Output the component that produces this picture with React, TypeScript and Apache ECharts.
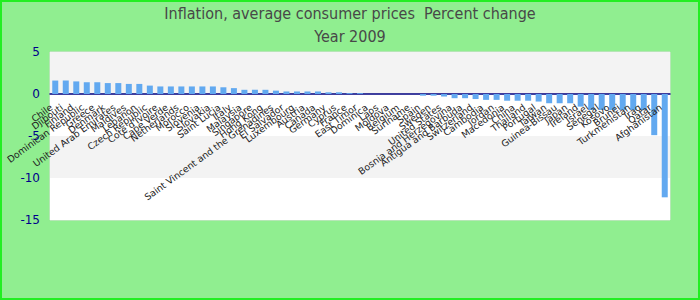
import React, { useEffect, useRef } from "react";
import * as echarts from "echarts";

const titleLine1 = "Inflation, average consumer prices  Percent change";
const titleLine2 = "Year 2009";

const countries = [
  "Chile", "Djibouti", "Finland", "Dominican Republic", "Greece", "Denmark",
  "United Arab Emirates", "Maldives", "Lebanon", "Czech Republic", "Cote d'Ivoire",
  "Cape Verde", "Netherlands", "Morocco", "Slovenia", "Slovakia", "Saint Lucia",
  "Italy", "Malaysia", "Singapore", "Hong Kong", "Saint Vincent and the Grenadines",
  "El Salvador", "Luxembourg", "Austria", "Canada", "Germany", "Cyprus", "France",
  "East Timor", "Dominica", "Laos", "Moldova", "Belgium", "Suriname", "Spain",
  "Sweden", "United States", "Bosnia and Herzegovina", "Antigua and Barbuda",
  "Switzerland", "Cambodia", "Jordan", "Macedonia", "China", "Thailand", "Portugal",
  "Taiwan", "Guinea-Bissau", "Japan", "Ireland", "Israel", "Senegal", "Kosovo",
  "Brunei", "Turkmenistan", "Iraq", "Qatar", "Afghanistan",
];

const inflation = [
  1.6, 1.6, 1.5, 1.4, 1.4, 1.3, 1.3, 1.2, 1.2, 1.0, 0.9, 0.9, 0.9, 0.9, 0.9, 0.9,
  0.8, 0.7, 0.5, 0.5, 0.5, 0.4, 0.3, 0.3, 0.3, 0.3, 0.2, 0.2, 0.1, 0.1, 0.0, 0.0,
  0.0, 0.0, 0.0, -0.2, -0.2, -0.3, -0.5, -0.5, -0.6, -0.7, -0.7, -0.8, -0.8, -0.8,
  -0.9, -1.1, -1.1, -1.1, -1.5, -1.9, -1.9, -1.9, -1.9, -1.9, -1.9, -4.9, -12.3,
];

const yMin = -15;
const yMax = 5;
const yStep = 5;

export default function App() {
  const ref = useRef<HTMLDivElement>(null);
  useEffect(() => {
    document.body.style.margin = "0";
    const chart = echarts.init(ref.current!, undefined, { renderer: "svg" });
    const labelData = countries.map((name, i) => [i, 0, name]);
    chart.setOption({
      animation: false,
      backgroundColor: "#90ee90",
      title: {
        text: titleLine1 + "\n" + titleLine2,
        left: "center",
        top: 2,
        padding: 0,
        textStyle: {
          fontFamily: "'Liberation Sans Narrow', 'DejaVu Sans Condensed', 'Liberation Sans', sans-serif",
          fontSize: 16,
          fontWeight: "normal",
          color: "#484848",
          lineHeight: 23,
        },
      },
      graphic: [
        {
          type: "rect",
          shape: { x: 1, y: 1, width: 698, height: 298 },
          style: { fill: "none", stroke: "#22ee22", lineWidth: 2 },
          silent: true,
          z: 100,
        },
      ],
      grid: {
        left: 50,
        right: 30,
        top: 52,
        bottom: 80,
        show: true,
        borderColor: "#dddddd",
        borderWidth: 1,
        outerBoundsMode: "none",
        containLabel: false,
      },
      xAxis: {
        type: "category",
        data: countries,
        axisLine: { onZero: true, lineStyle: { color: "#000080", width: 1.5 } },
        axisTick: { show: false },
        axisLabel: { show: false },
      },
      yAxis: {
        type: "value",
        min: yMin,
        max: yMax,
        interval: yStep,
        axisLine: { show: false },
        axisTick: { show: false },
        splitLine: { show: false },
        splitArea: { show: true, areaStyle: { color: ["#ffffff", "#f3f3f3"] } },
        axisLabel: {
          fontSize: 12,
          fontFamily: "DejaVu Sans",
          color: "#00008b",
          margin: 10,
        },
      },
      series: [
        {
          type: "bar",
          data: inflation,
          barWidth: 6,
          itemStyle: { color: "#62a9f0" },
        },
        {
          type: "custom",
          data: labelData,
          z: 10,
          silent: true,
          renderItem: (params: any, api: any) => {
            const p = api.coord([api.value(0), api.value(1)]);
            const name = countries[params.dataIndex];
            return {
              type: "text",
              x: p[0] - 4,
              y: p[1] + 12,
              rotation: (36 * Math.PI) / 180,
              style: {
                text: name,
                align: "right",
                verticalAlign: "middle",
                fontSize: 9.3,
                fontFamily: "DejaVu Sans",
                fill: "#222",
              },
            };
          },
        },
      ],
    });
    return () => chart.dispose();
  }, []);
  return (
    <div
      ref={ref}
      style={{ position: "fixed", left: 0, top: 0, width: 700, height: 300 }}
    />
  );
}
